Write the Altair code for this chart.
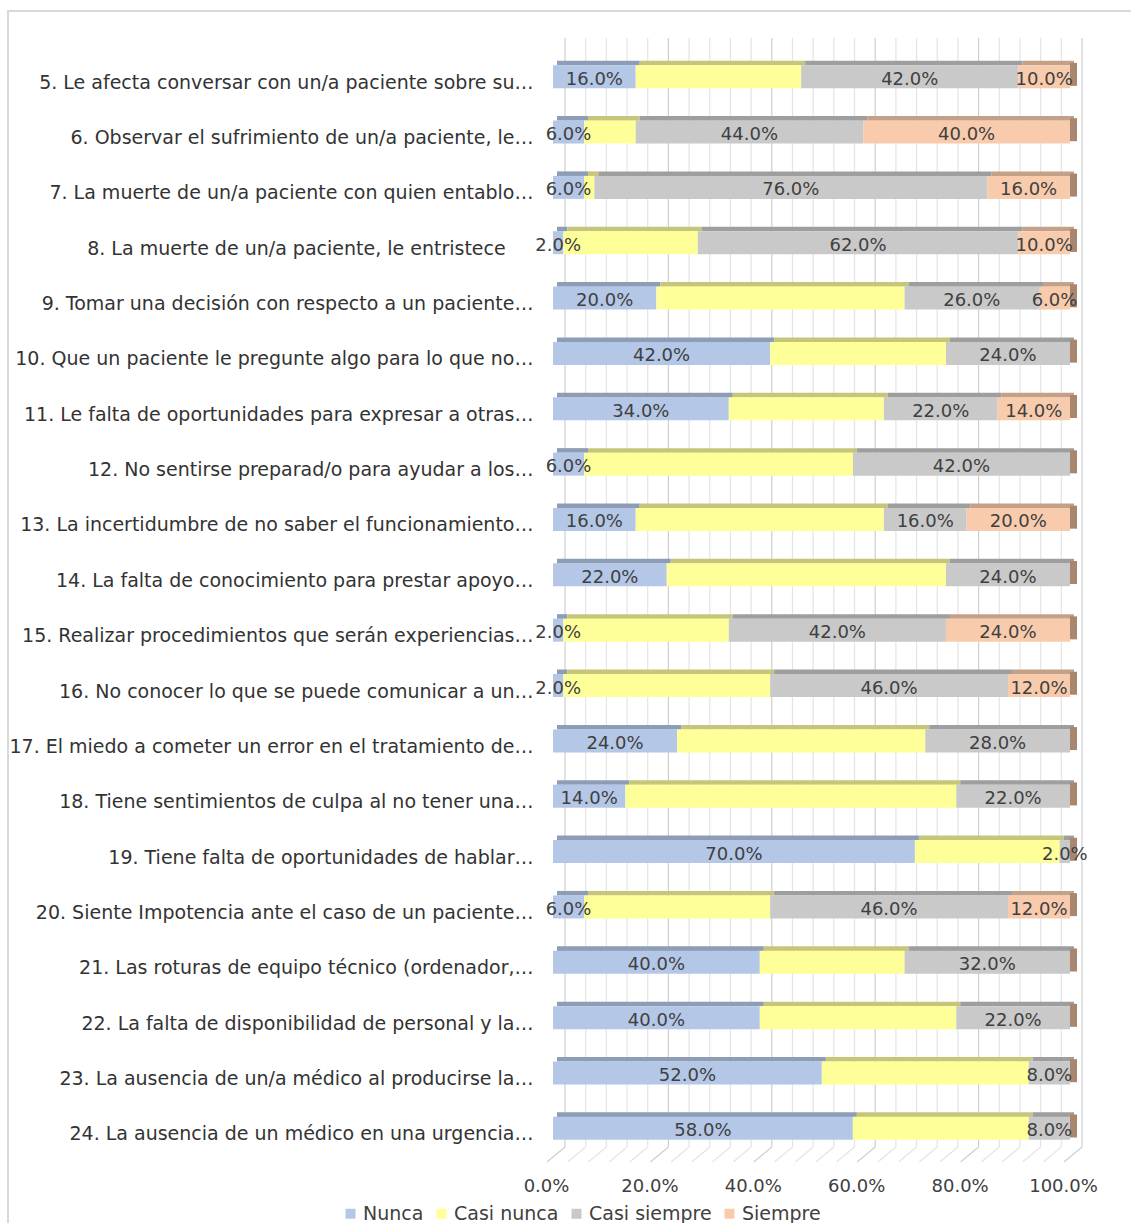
import altair as alt
import pandas as pd

# Survey items (axis labels as they appear, truncated with an ellipsis)
categories = [
    "5. Le afecta conversar con un/a paciente sobre su…",
    "6. Observar el sufrimiento de un/a paciente, le…",
    "7. La muerte de un/a paciente con quien entablo…",
    "8. La muerte de un/a paciente, le entristece\u2800\u2800",
    "9. Tomar una decisión con respecto a un paciente…",
    "10. Que un paciente le pregunte algo para lo que no…",
    "11. Le falta de oportunidades para expresar a otras…",
    "12. No sentirse preparad/o para ayudar a los…",
    "13. La incertidumbre de no saber el funcionamiento…",
    "14. La falta de conocimiento para prestar apoyo…",
    "15. Realizar procedimientos que serán experiencias…",
    "16. No conocer lo que se puede comunicar a un…",
    "17. El miedo a cometer un error en el tratamiento de…",
    "18. Tiene sentimientos de culpa al no tener una…",
    "19. Tiene falta de oportunidades de hablar…",
    "20. Siente Impotencia ante el caso de un paciente…",
    "21. Las roturas de equipo técnico (ordenador,…",
    "22. La falta de disponibilidad de personal y la…",
    "23. La ausencia de un/a médico al producirse la…",
    "24. La ausencia de un médico en una urgencia…",
]

series = ["Nunca", "Casi nunca", "Casi siempre", "Siempre"]

# Percentages per answer (each row sums to 100)
nunca = [16, 6, 6, 2, 20, 42, 34, 6, 16, 22, 2, 2, 24, 14, 70, 6, 40, 40, 52, 58]
casi_nunca = [32, 10, 2, 26, 48, 34, 30, 52, 48, 54, 32, 40, 48, 64, 28, 36, 28, 38, 40, 34]
casi_siempre = [42, 44, 76, 62, 26, 24, 22, 42, 16, 24, 42, 46, 28, 22, 2, 46, 32, 22, 8, 8]
siempre = [10, 40, 16, 10, 6, 0, 14, 0, 20, 0, 24, 12, 0, 0, 0, 12, 0, 0, 0, 0]

# Series without printed data labels
unlabeled = ["Casi nunca"]

front_colors = ["#B4C7E7", "#FFFF99", "#C9C9C9", "#F8CBAD"]
top_colors = ["#8E9DB6", "#C6C67A", "#9E9E9E", "#C4A089"]
side_color = "#A8866F"

grid_ticks = list(range(0, 101, 4))
axis_ticks = [0, 20, 40, 60, 80, 100]

# Long table with stacked start / end positions
rows = []
for i, cat in enumerate(categories):
    vals = [nunca[i], casi_nunca[i], casi_siempre[i], siempre[i]]
    start = 0
    for k, (s, v) in enumerate(zip(series, vals)):
        rows.append({"cat": cat, "serie": s, "order": k, "value": v,
                     "start": start, "end": start + v, "mid": start + v / 2})
        start += v
df = pd.DataFrame(rows)
df["serie_top"] = df["serie"]
labels_df = df[(~df["serie"].isin(unlabeled)) & (df["value"] > 0)].copy()
labels_df["label"] = labels_df["value"].map(lambda v: f"{v:.1f}%")
ends_df = pd.DataFrame({"cat": categories, "total": [100] * len(categories)})

grid_df = pd.DataFrame({"tick": grid_ticks,
                        "major": [t % 20 == 0 for t in grid_ticks]})

FONT = "DejaVu Sans"
x_scale = alt.Scale(domain=[0, 100], nice=False, zero=False)
x_axis = alt.Axis(values=axis_ticks, domain=False, ticks=False, grid=False,
                  labelExpr="format(datum.value, '.1f') + '%'",
                  labelFontSize=18, labelFont=FONT, labelColor="#404040",
                  labelPadding=21, labelOffset=-7, labelFlush=False,
                  labelOverlap=False, labelBound=False)


def xenc(field):
    return alt.X(field, type="quantitative", scale=x_scale, axis=x_axis, title=None)


y_enc = alt.Y("cat:N", sort=categories,
              scale=alt.Scale(paddingInner=0, paddingOuter=0), title=None,
              axis=alt.Axis(domain=False, ticks=False, grid=False, labelLimit=700,
                            labelPadding=20, labelFontSize=19, labelFont=FONT,
                            labelColor="#333333", labelOffset=6))

# Back-wall gridlines and floor lines
grid_color = alt.condition("datum.major", alt.value("#CFCFCF"), alt.value("#E4E4E4"))
grid = alt.Chart(grid_df).mark_rule(xOffset=12, strokeWidth=1.2).encode(
    x=xenc("tick"),
    y=alt.value(-11), y2=alt.value(1098),
    color=grid_color,
)
floor = alt.Chart(grid_df).mark_rule(xOffset=12, x2Offset=-6, strokeWidth=1.2).encode(
    x=xenc("tick"),
    x2="tick:Q",
    y=alt.value(1098), y2=alt.value(1113),
    color=grid_color,
)

# Top faces of the 3-D bars
top = alt.Chart(df).mark_bar(height=4.6, yOffset=-13.7, xOffset=4, x2Offset=4).encode(
    x=xenc("start"),
    x2="end:Q",
    y=y_enc,
    color=alt.Color("serie_top:N", scale=alt.Scale(domain=series, range=top_colors),
                    legend=None),
)

# Right side face at the end of each bar
side = alt.Chart(ends_df).mark_bar(height=23, yOffset=-2.3, x2Offset=7, color=side_color).encode(
    x=xenc("total"),
    x2="total:Q",
    y=y_enc,
)

# Front faces
front = alt.Chart(df).mark_bar(height=23).encode(
    x=xenc("start"),
    x2="end:Q",
    y=y_enc,
    color=alt.Color("serie:N", scale=alt.Scale(domain=series, range=front_colors),
                    sort=series,
                    legend=alt.Legend(title=None, orient="none", direction="horizontal",
                                      legendX=-212, legendY=1155,
                                      symbolType="square", symbolSize=100,
                                      symbolStrokeWidth=0, labelFontSize=19,
                                      labelFont=FONT, labelColor="#404040",
                                      labelOffset=3, columnPadding=8)),
)

labels = alt.Chart(labels_df).mark_text(fontSize=18, font=FONT, color="#404040", dy=3,
                                        baseline="middle").encode(
    x=xenc("mid"),
    y=y_enc,
    text="label:N",
)

# Outer frame of the chart area
frame = alt.Chart(ends_df).mark_rect(fill=None, stroke="#D9D9D9", strokeWidth=2).encode(
    x=alt.value(-545), x2=alt.value(700), y=alt.value(-38), y2=alt.value(1300),
)

chart = alt.layer(frame, grid, floor, top, side, front, labels).resolve_scale(
    color="independent"
).properties(
    width=517, height=1107,
    background="white",
    autosize=alt.AutoSizeParams(type="none"),
    padding={"left": 553, "top": 49, "right": 61, "bottom": 67},
).configure_view(strokeWidth=0, stroke=None)

chart.save("out.html", embed_options={"renderer": "svg", "actions": False})
